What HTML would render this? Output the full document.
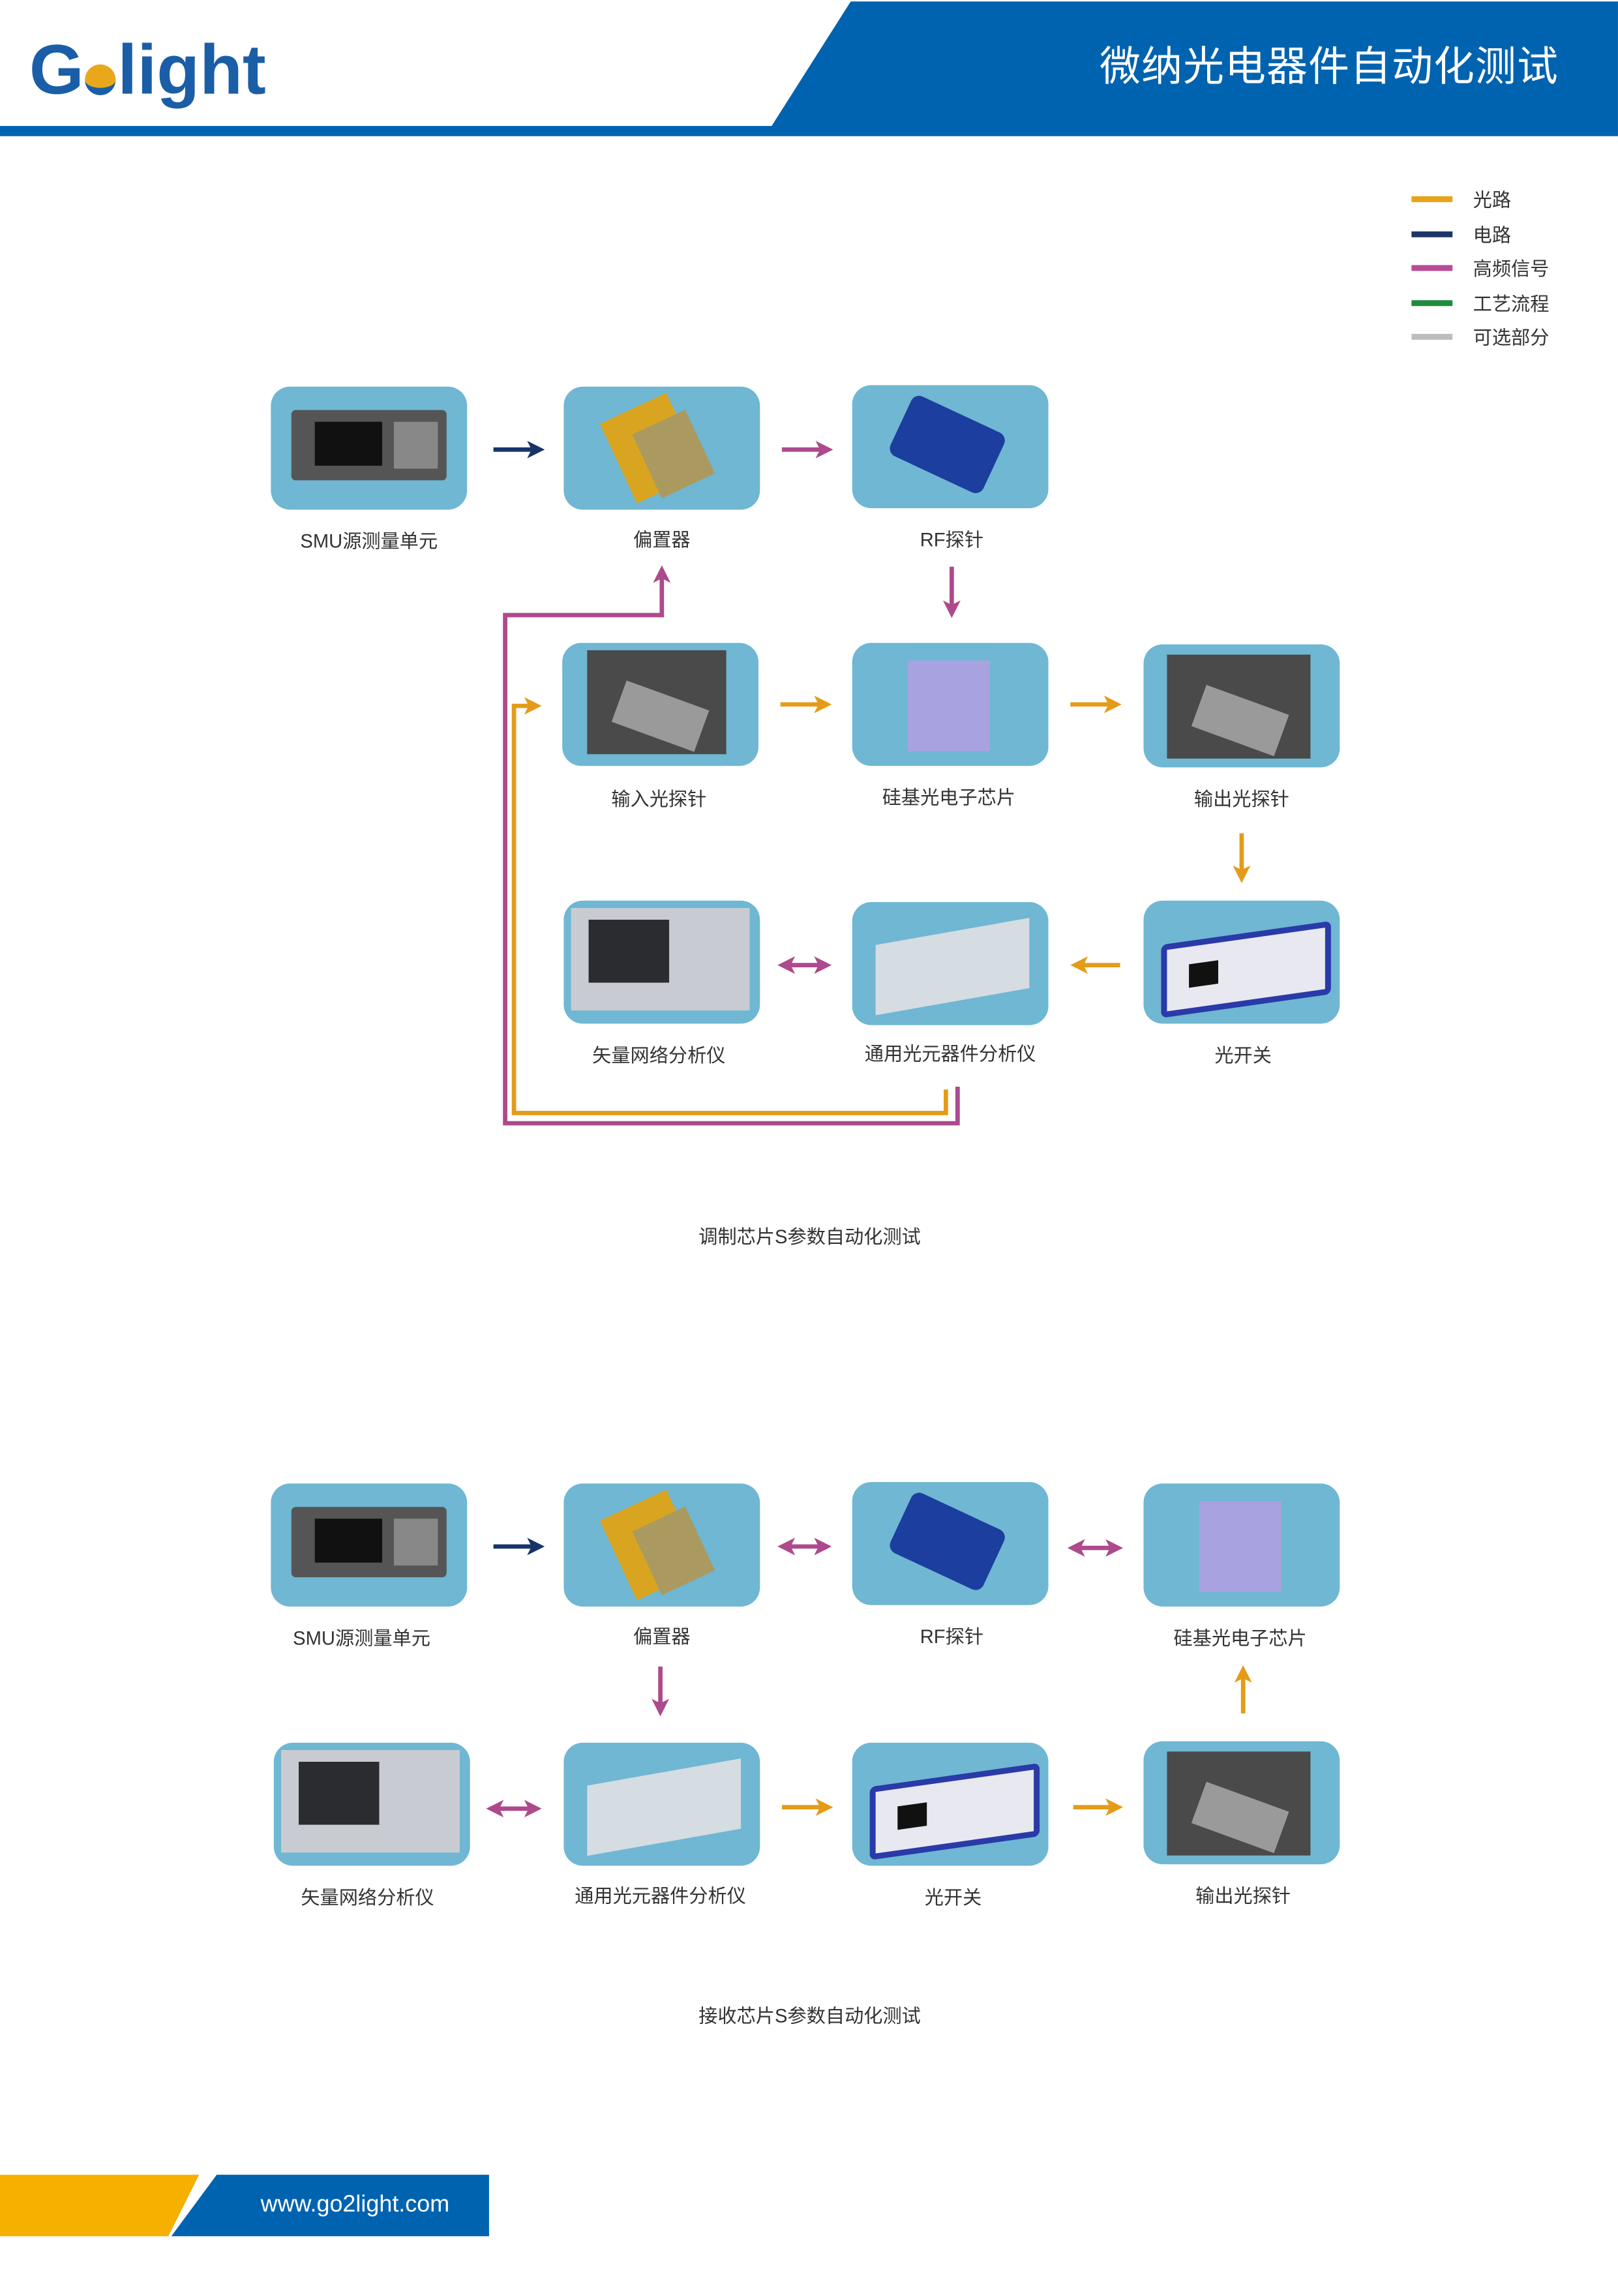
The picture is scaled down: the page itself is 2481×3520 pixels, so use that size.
<!DOCTYPE html>
<html><head><meta charset="utf-8">
<style>
html,body{margin:0;padding:0;background:#fff;width:2481px;height:3520px;overflow:hidden}
#s{position:absolute;left:0;top:0;width:1105px;height:1568px;transform:scale(2.2452);transform-origin:0 0;font-family:"Liberation Sans","Noto Sans CJK SC",sans-serif}
.n{position:absolute;width:134px;height:84px;background:#6fb7d3;border-radius:13px;overflow:hidden}
.l{position:absolute;width:200px;text-align:center;font-size:13px;color:#333;line-height:16px}
.a{position:absolute}
</style></head><body>
<div id="s">
<svg width="1105" height="1568" style="position:absolute;left:0;top:0">
<polygon points="581,1 1105,1 1105,93 0,93 0,86 527,86" fill="#0063b0"/>
<polygon points="0,1485 136,1485 115,1527 0,1527" fill="#f5b000"/>
<polygon points="148,1485 334,1485 334,1527 117,1527" fill="#0063b0"/>
<g stroke-width="4">
<line x1="964" y1="136" x2="992" y2="136" stroke="#e8a317"/>
<line x1="964" y1="160" x2="992" y2="160" stroke="#1a3568"/>
<line x1="964" y1="183" x2="992" y2="183" stroke="#b84c96"/>
<line x1="964" y1="207" x2="992" y2="207" stroke="#1e8c3c"/>
<line x1="964" y1="230" x2="992" y2="230" stroke="#bdbdbd"/>
</g>
<defs>
<marker id="mo" markerWidth="4" markerHeight="4" refX="2" refY="2" orient="auto" markerUnits="strokeWidth"><path d="M0,0L4,2L0,4L1,2z" fill="#e49c18"/></marker>
<marker id="mm" markerWidth="4" markerHeight="4" refX="2" refY="2" orient="auto" markerUnits="strokeWidth"><path d="M0,0L4,2L0,4L1,2z" fill="#ad4a8c"/></marker>
<marker id="mms" markerWidth="4" markerHeight="4" refX="2" refY="2" orient="auto-start-reverse" markerUnits="strokeWidth"><path d="M0,0L4,2L0,4L1,2z" fill="#ad4a8c"/></marker>
<marker id="mn" markerWidth="4" markerHeight="4" refX="2" refY="2" orient="auto" markerUnits="strokeWidth"><path d="M0,0L4,2L0,4L1,2z" fill="#17336a"/></marker>
</defs>
<g stroke-width="3" fill="none">
<line x1="337" y1="307" x2="366" y2="307" stroke="#17336a" marker-end="url(#mn)"/>
<line x1="534" y1="307" x2="563" y2="307" stroke="#ad4a8c" marker-end="url(#mm)"/>
<line x1="650" y1="387" x2="650" y2="416" stroke="#ad4a8c" marker-end="url(#mm)"/>
<line x1="533" y1="481" x2="562" y2="481" stroke="#e49c18" marker-end="url(#mo)"/>
<line x1="731" y1="481" x2="760" y2="481" stroke="#e49c18" marker-end="url(#mo)"/>
<line x1="848" y1="569" x2="848" y2="597" stroke="#e49c18" marker-end="url(#mo)"/>
<line x1="765" y1="659" x2="737" y2="659" stroke="#e49c18" marker-end="url(#mo)"/>
<line x1="537" y1="659" x2="562" y2="659" stroke="#ad4a8c" marker-end="url(#mm)" marker-start="url(#mms)"/>
<polyline points="654,742 654,767 345,767 345,420 452,420 452,392" stroke="#ad4a8c" marker-end="url(#mm)"/>
<polyline points="646,744 646,760 351,760 351,482 364,482" stroke="#e49c18" marker-end="url(#mo)"/>
<line x1="337" y1="1056" x2="366" y2="1056" stroke="#17336a" marker-end="url(#mn)"/>
<line x1="537" y1="1056" x2="562" y2="1056" stroke="#ad4a8c" marker-end="url(#mm)" marker-start="url(#mms)"/>
<line x1="735" y1="1057" x2="761" y2="1057" stroke="#ad4a8c" marker-end="url(#mm)" marker-start="url(#mms)"/>
<line x1="451" y1="1138" x2="451" y2="1166" stroke="#ad4a8c" marker-end="url(#mm)"/>
<line x1="849" y1="1170" x2="849" y2="1143" stroke="#e49c18" marker-end="url(#mo)"/>
<line x1="338" y1="1235" x2="364" y2="1235" stroke="#ad4a8c" marker-end="url(#mm)" marker-start="url(#mms)"/>
<line x1="534" y1="1234" x2="563" y2="1234" stroke="#e49c18" marker-end="url(#mo)"/>
<line x1="733" y1="1234" x2="761" y2="1234" stroke="#e49c18" marker-end="url(#mo)"/>
</g>
</svg>

<div class="a" style="left:20px;top:21px;font-size:48px;font-weight:bold;color:#1a5ea8;line-height:56px">G<span style="display:inline-block;width:21px;height:21px;border-radius:50%;background:#e9a81c;vertical-align:-1px;margin:0 1px;border-bottom:5px solid #1a5ea8;box-sizing:border-box"></span>light</div>
<div class="a" style="left:751px;top:26px;font-size:28px;color:#fff;line-height:40px;letter-spacing:0.5px">微纳光电器件自动化测试</div>

<div class="a" style="left:1006px;top:125px;font-size:13px;color:#333;line-height:23.5px">光路<br>电路<br>高频信号<br>工艺流程<br>可选部分</div>

<div class="n" style="left:185px;top:264px"><div class="a" style="left:14px;top:16px;width:106px;height:48px;background:#555;border-radius:3px"><div class="a" style="left:16px;top:8px;width:46px;height:30px;background:#111"></div><div class="a" style="left:70px;top:8px;width:30px;height:32px;background:#888"></div></div></div>
<div class="n" style="left:385px;top:264px"><div class="a" style="left:35px;top:12px;width:50px;height:60px;background:#d9a520;transform:rotate(-25deg)"></div><div class="a" style="left:55px;top:22px;width:40px;height:48px;background:#aa9a60;transform:rotate(-25deg)"></div></div>
<div class="n" style="left:582px;top:263px"><div class="a" style="left:30px;top:18px;width:70px;height:45px;background:#1c3e9e;transform:rotate(25deg);border-radius:6px"></div></div>
<div class="n" style="left:384px;top:439px"><div class="a" style="left:17px;top:5px;width:95px;height:71px;background:#4a4a4a"><div class="a" style="left:20px;top:30px;width:60px;height:30px;background:#9a9a9a;transform:rotate(20deg)"></div></div></div>
<div class="n" style="left:582px;top:439px"><div class="a" style="left:38px;top:12px;width:56px;height:62px;background:#a9a2e0"></div></div>
<div class="n" style="left:781px;top:440px"><div class="a" style="left:16px;top:7px;width:98px;height:71px;background:#4a4a4a"><div class="a" style="left:20px;top:30px;width:60px;height:30px;background:#9a9a9a;transform:rotate(20deg)"></div></div></div>
<div class="n" style="left:385px;top:615px"><div class="a" style="left:5px;top:5px;width:122px;height:70px;background:#c8ccd2"><div class="a" style="left:12px;top:8px;width:55px;height:43px;background:#2a2c30"></div></div></div>
<div class="n" style="left:582px;top:616px"><div class="a" style="left:16px;top:20px;width:105px;height:48px;background:#d5dce2;transform:skewY(-10deg)"></div></div>
<div class="n" style="left:781px;top:615px"><div class="a" style="left:12px;top:22px;width:108px;height:42px;background:#e8e8f0;border:4px solid #2a3aa8;transform:skewY(-8deg);border-radius:4px"><div class="a" style="left:15px;top:12px;width:20px;height:16px;background:#111"></div></div></div>
<div class="l" style="left:152px;top:362px">SMU源测量单元</div>
<div class="l" style="left:352px;top:361px">偏置器</div>
<div class="l" style="left:550px;top:361px">RF探针</div>
<div class="l" style="left:350px;top:538px">输入光探针</div>
<div class="l" style="left:548px;top:537px">硅基光电子芯片</div>
<div class="l" style="left:748px;top:538px">输出光探针</div>
<div class="l" style="left:350px;top:713px">矢量网络分析仪</div>
<div class="l" style="left:549px;top:712px">通用光元器件分析仪</div>
<div class="l" style="left:749px;top:713px">光开关</div>
<div class="l" style="left:403px;top:837px;width:300px">调制芯片S参数自动化测试</div>

<div class="n" style="left:185px;top:1013px"><div class="a" style="left:14px;top:16px;width:106px;height:48px;background:#555;border-radius:3px"><div class="a" style="left:16px;top:8px;width:46px;height:30px;background:#111"></div><div class="a" style="left:70px;top:8px;width:30px;height:32px;background:#888"></div></div></div>
<div class="n" style="left:385px;top:1013px"><div class="a" style="left:35px;top:12px;width:50px;height:60px;background:#d9a520;transform:rotate(-25deg)"></div><div class="a" style="left:55px;top:22px;width:40px;height:48px;background:#aa9a60;transform:rotate(-25deg)"></div></div>
<div class="n" style="left:582px;top:1012px"><div class="a" style="left:30px;top:18px;width:70px;height:45px;background:#1c3e9e;transform:rotate(25deg);border-radius:6px"></div></div>
<div class="n" style="left:781px;top:1013px"><div class="a" style="left:38px;top:12px;width:56px;height:62px;background:#a9a2e0"></div></div>
<div class="n" style="left:187px;top:1190px"><div class="a" style="left:5px;top:5px;width:122px;height:70px;background:#c8ccd2"><div class="a" style="left:12px;top:8px;width:55px;height:43px;background:#2a2c30"></div></div></div>
<div class="n" style="left:385px;top:1190px"><div class="a" style="left:16px;top:20px;width:105px;height:48px;background:#d5dce2;transform:skewY(-10deg)"></div></div>
<div class="n" style="left:582px;top:1190px"><div class="a" style="left:12px;top:22px;width:108px;height:42px;background:#e8e8f0;border:4px solid #2a3aa8;transform:skewY(-8deg);border-radius:4px"><div class="a" style="left:15px;top:12px;width:20px;height:16px;background:#111"></div></div></div>
<div class="n" style="left:781px;top:1189px"><div class="a" style="left:16px;top:7px;width:98px;height:71px;background:#4a4a4a"><div class="a" style="left:20px;top:30px;width:60px;height:30px;background:#9a9a9a;transform:rotate(20deg)"></div></div></div>
<div class="l" style="left:147px;top:1111px">SMU源测量单元</div>
<div class="l" style="left:352px;top:1110px">偏置器</div>
<div class="l" style="left:550px;top:1110px">RF探针</div>
<div class="l" style="left:747px;top:1111px">硅基光电子芯片</div>
<div class="l" style="left:151px;top:1288px">矢量网络分析仪</div>
<div class="l" style="left:351px;top:1287px">通用光元器件分析仪</div>
<div class="l" style="left:551px;top:1288px">光开关</div>
<div class="l" style="left:749px;top:1287px">输出光探针</div>
<div class="l" style="left:403px;top:1369px;width:300px">接收芯片S参数自动化测试</div>

<div class="a" style="left:178px;top:1496px;font-size:16px;color:#fff;line-height:20px">www.go2light.com</div>
</div>
</body></html>
